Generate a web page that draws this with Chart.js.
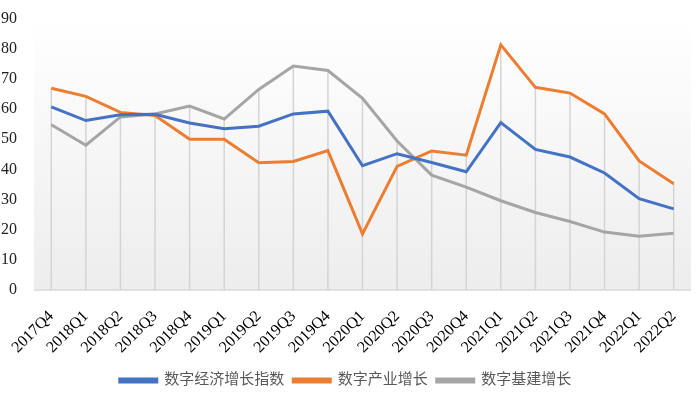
<!DOCTYPE html>
<html><head><meta charset="utf-8">
<script src="https://cdn.jsdelivr.net/npm/chart.js@4/dist/chart.umd.min.js"></script>
<style>html,body{margin:0;padding:0;background:#fff}#wrap{width:700px;height:398px}</style>
</head><body><div id="wrap"><canvas id="c"></canvas></div>
<script>
const categories = ["2017Q4","2018Q1","2018Q2","2018Q3","2018Q4","2019Q1","2019Q2","2019Q3","2019Q4","2020Q1","2020Q2","2020Q3","2020Q4","2021Q1","2021Q2","2021Q3","2021Q4","2022Q1","2022Q2"];
const digitalEconomy = [60.7,56.2,58.1,58.3,55.4,53.5,54.3,58.4,59.3,41.2,45.2,42.3,39.2,55.5,46.6,44.1,38.8,30.3,26.9];
const digitalIndustry = [66.9,64.2,58.9,57.9,50.0,50.0,42.2,42.6,46.2,18.6,41.0,46.1,44.7,81.3,67.2,65.3,58.4,42.8,35.2];
const digitalInfra = [54.8,48.0,57.4,58.4,61.0,56.7,66.5,74.3,72.8,63.6,49.4,38.1,34.1,29.6,25.7,22.7,19.2,17.8,18.8];
const yTicks = [0,10,20,30,40,50,60,70,80,90];

const serif = '"Liberation Serif","Times New Roman",serif';
const cjk = '"Liberation Serif","Noto Sans CJK SC",serif';

const bgPlugin = {
  id:'bg',
  beforeDatasetsDraw(chart){
    const {ctx, chartArea:a, scales} = chart;
    ctx.save();
    const g = ctx.createLinearGradient(0,a.top,0,a.bottom);
    g.addColorStop(0,'#ffffff');
    g.addColorStop(1,'#ededed');
    ctx.fillStyle = g;
    ctx.fillRect(a.left,a.top,a.right-a.left,a.bottom-a.top);
    ctx.strokeStyle = '#d4d4d4';
    ctx.lineWidth = 1.5;
    categories.forEach((c,i)=>{
      const m = Math.max(digitalEconomy[i],digitalIndustry[i],digitalInfra[i]);
      const x = scales.x.getPixelForValue(i);
      ctx.beginPath();
      ctx.moveTo(x, scales.y.getPixelForValue(m));
      ctx.lineTo(x, scales.y.getPixelForValue(0));
      ctx.stroke();
    });
    ctx.strokeStyle = '#d9d9d9';
    ctx.lineWidth = 1.5;
    ctx.beginPath();
    const y0 = scales.y.getPixelForValue(0);
    ctx.moveTo(a.left,y0); ctx.lineTo(a.right,y0); ctx.stroke();
    ctx.restore();
  }
};

const mk = (label,data,color)=>({label,data,borderColor:color,backgroundColor:color,borderWidth:3,pointRadius:0,tension:0,fill:false});

new Chart(document.getElementById('c'),{
  type:'line',
  data:{labels:categories,datasets:[
    mk('数字经济增长指数',digitalEconomy,'#4472C4'),
    mk('数字产业增长',digitalIndustry,'#ED7D31'),
    mk('数字基建增长',digitalInfra,'#A5A5A5')
  ]},
  options:{
    responsive:true,maintainAspectRatio:false,animation:false,
    layout:{padding:{top:14,right:9,left:0,bottom:0}},
    plugins:{
      legend:{position:'bottom',labels:{boxWidth:37,boxHeight:3,padding:9,color:'#595959',font:{family:cjk,size:15}}},
      tooltip:{enabled:false}
    },
    scales:{
      x:{offset:true,grid:{display:false},border:{display:false},
         afterFit(s){s.height=74;},
         ticks:{color:'#000',font:{family:serif,size:16},maxRotation:45,minRotation:45,autoSkip:false,padding:9}},
      y:{min:0,max:90,grid:{display:false},border:{display:false},
         afterBuildTicks(s){s.ticks=yTicks.map(v=>({value:v}));},
         afterFit(s){s.width=34;},
         ticks:{color:'#222',font:{family:serif,size:16},padding:9}}
    }
  },
  plugins:[bgPlugin]
});
</script></body></html>
